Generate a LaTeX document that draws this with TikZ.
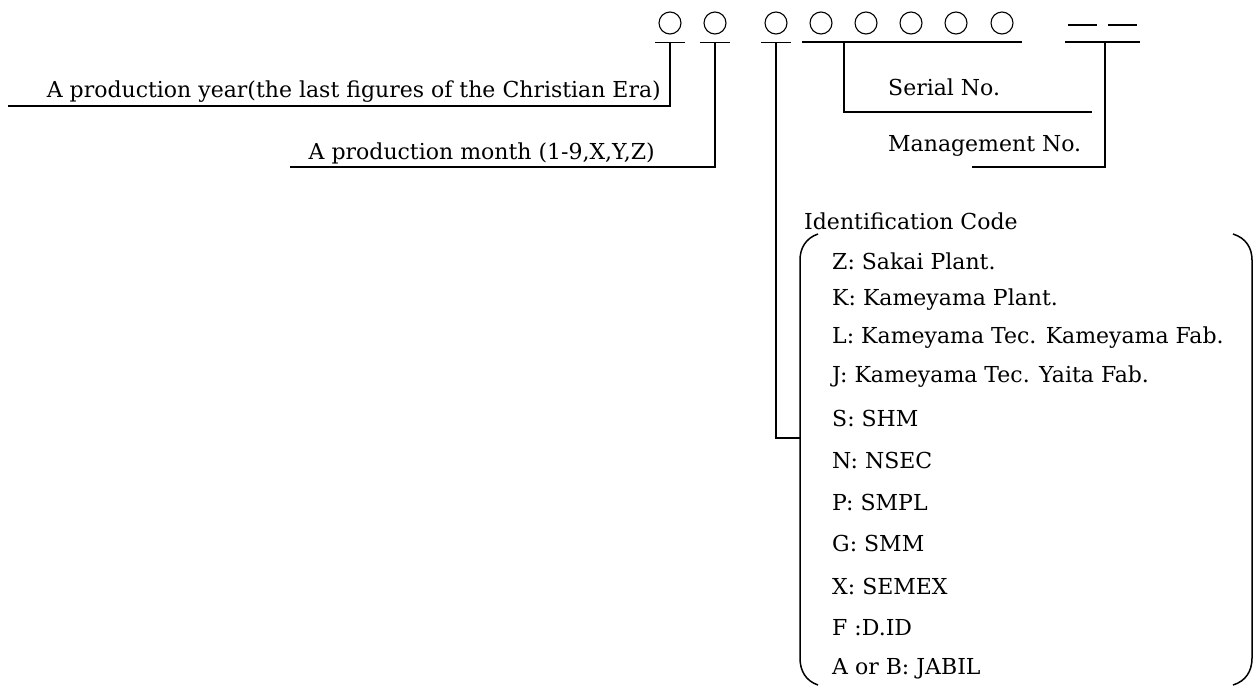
\documentclass[tikz,border=0pt]{standalone}
\usepackage{fontspec}
\setmainfont{DejaVu Serif}
\usetikzlibrary{positioning}
\begin{document}
\begin{tikzpicture}[x=1pt,y=-1pt,
    digit/.style={circle,draw,line width=1.1pt,minimum size=22pt,inner sep=0pt},
    lead/.style={line width=1.5pt},
    txt/.style={font=\fontsize{22}{26}\selectfont,inner sep=0pt}]
\useasboundingbox (0,0) rectangle (1255,686);

% digit places of the number
\foreach \n/\x in {1/670,2/715,3/776,4/821,5/866,6/911,7/956,8/1002}
    \node[digit] (c\n) at (\x,23) {};
\coordinate (d1) at (1068,25);
\coordinate (d2) at (1108,25);
\draw[lead] (d1) -- ++(29,0);
\draw[lead] (d2) -- ++(29,0);

% bars under the places
\foreach \n in {1,2,3}
    \draw[lead] ([xshift=-15pt,yshift=-8pt]c\n.south) -- ([xshift=15pt,yshift=-8pt]c\n.south)
        coordinate[midway] (b\n);
\draw[lead] (802,42) -- (1022,42);
\coordinate (b4) at (844,42);
\draw[lead] (1065,42) -- (1140,42);
\coordinate (b5) at (1105,42);

% labels
\node[txt,anchor=base east] (year) at (661,97) {A production year(the last figures of the Christian Era)};
\node[txt,anchor=base east] (month) at (655,159) {A production month (1-9,X,Y,Z)};
\node[txt,anchor=base west] (serial) at (888,95) {Serial No.};
\node[txt,anchor=base west] (manage) at (888,151) {Management No.};
\node[txt,anchor=base west] (ident) at (804,229) {Identification Code};

\coordinate (yearend) at (8,106);
\coordinate (monthend) at (290,167);
\coordinate (serialend) at (1092,112);
\coordinate (manageend) at (972,167);
\coordinate (identend) at (800,438);

\draw[lead] (b1) |- (yearend);
\draw[lead] (b2) |- (monthend);
\draw[lead] (b3) |- (identend);
\draw[lead] (b4) |- (serialend);
\draw[lead] (b5) |- (manageend);

% brackets round the code list
\draw[lead] (818,234) .. controls (806,238) and (800,248) .. (800,260) -- (800,658)
    .. controls (800,671) and (806,681) .. (818,685);
\draw[lead] (1233,234) .. controls (1246,238) and (1252,248) .. (1252,260) -- (1252,658)
    .. controls (1252,671) and (1246,681) .. (1233,685);

\foreach \t/\y [count=\i] in {Z: Sakai Plant./261,K: Kameyama Plant./300,
        L: Kameyama Tec. Kameyama Fab./338,J: Kameyama Tec. Yaita Fab./377,S: SHM/418,
        N: NSEC/460,P: SMPL/502,G: SMM/543,X: SEMEX/586,F :D.ID/628,A or B: JABIL/669}
    \node[txt,anchor=west] (code\i) at (832,\y) {\t};
\end{tikzpicture}
\end{document}
